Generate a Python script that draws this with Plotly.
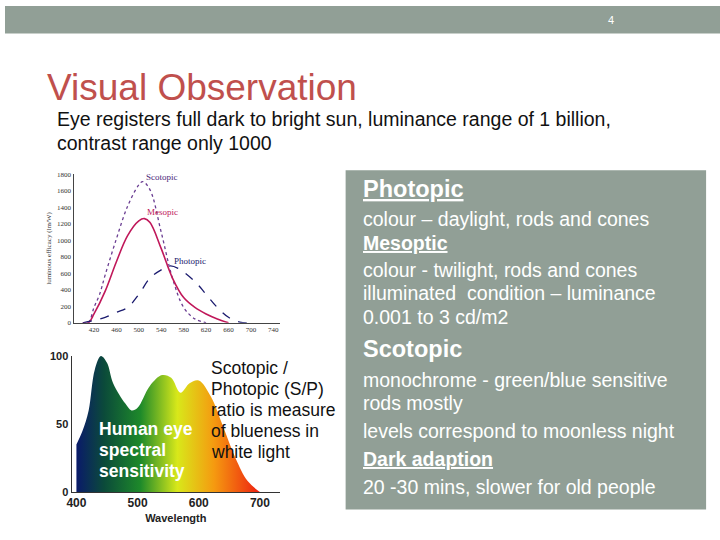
import plotly.graph_objects as go

W, H = 720, 540
def px(x): return x / W
def py(y): return 1 - y / H

# Top chart: luminous efficacy curves
scot_x = [400, 410, 420, 430, 440, 460, 480, 500, 507, 520, 540, 560, 580, 600, 620]
scot_y = [0, 0, 186, 344, 580, 1017, 1412, 1670, 1710, 1610, 1096, 542, 186, 47, 0]
meso_x = [400, 410, 420, 440, 460, 480, 500, 510, 520, 540, 560, 580, 600, 620, 640, 660]
meso_y = [0, 0, 107, 384, 740, 1056, 1234, 1262, 1214, 898, 542, 305, 186, 107, 47, 0]
phot_x = [400, 420, 440, 460, 480, 500, 520, 540, 556, 570, 600, 620, 640, 660, 680, 700]
phot_y = [0, 28, 67, 127, 186, 344, 542, 641, 690, 660, 500, 344, 186, 67, 8, 0]
top_xticks = [380, 420, 460, 500, 540, 580, 620, 660, 700, 740]
top_yticks = [0, 200, 400, 600, 800, 1000, 1200, 1400, 1600, 1800]

# Bottom chart: human eye spectral sensitivity
sens_x = [400, 410, 420, 430, 440, 450, 460, 480, 490, 500, 520, 540, 555, 570, 585, 600, 620, 640, 660, 680, 700]
sens_y = [35, 45, 60, 90, 100, 95, 80, 65, 60, 62, 78, 86, 84, 73, 80, 82, 70, 48, 25, 8, 0]
bot_xticks = [400, 500, 600, 700]
bot_yticks = [0, 50, 100]

GRAY = "#919f96"
fig = go.Figure()
fig.add_trace(go.Scatter(x=scot_x, y=scot_y, mode="lines", line=dict(color="#6a3d92", width=1.3, dash="dot", shape="spline"), xaxis="x", yaxis="y"))
fig.add_trace(go.Scatter(x=meso_x, y=meso_y, mode="lines", line=dict(color="#c0185a", width=1.6, shape="spline"), xaxis="x", yaxis="y"))
fig.add_trace(go.Scatter(x=phot_x, y=phot_y, mode="lines", line=dict(color="#1a1a6e", width=1.3, dash="dash", shape="spline"), xaxis="x", yaxis="y"))
fig.add_trace(go.Scatter(x=sens_x, y=sens_y, mode="lines", line=dict(color="rgba(0,0,0,0)", width=0, shape="spline"),
                         fill="tozeroy",
                         fillgradient=dict(type="horizontal", colorscale=[[0, "#0a1a6a"], [0.15, "#0b4a3a"], [0.35, "#1e8a2a"], [0.55, "#d8e81a"], [0.75, "#f59a10"], [1, "#ee2010"]]),
                         xaxis="x2", yaxis="y2"))

serif = "Liberation Serif"
fig.update_layout(
    width=W, height=H, margin=dict(l=0, r=0, t=0, b=0),
    paper_bgcolor="white", plot_bgcolor="white", showlegend=False,
    xaxis=dict(domain=[px(69), px(277)], anchor="y", range=[383.5, 752], tickvals=top_xticks,
               showgrid=False, zeroline=False, showline=True, linecolor="#444", linewidth=1,
               ticks="", tickfont=dict(family=serif, size=7, color="#333")),
    yaxis=dict(domain=[py(324), py(172)], anchor="x", range=[0, 1800], tickvals=top_yticks,
               showgrid=False, zeroline=False, showline=True, linecolor="#444", linewidth=1,
               ticks="", tickfont=dict(family=serif, size=7, color="#333"),
               title=dict(text="luminous efficacy (lm/W)", font=dict(family=serif, size=7, color="#333"), standoff=4)),
    xaxis2=dict(domain=[px(67), px(277)], anchor="y2", range=[392, 733], tickvals=bot_xticks,
                showgrid=False, zeroline=False, showline=True, linecolor="#333", linewidth=1,
                ticks="", tickfont=dict(family="Liberation Sans", size=12, color="#222", weight="bold"),
                title=dict(text="Wavelength", font=dict(family="Liberation Sans", size=11, color="#222", weight="bold"), standoff=4)),
    yaxis2=dict(domain=[py(497), py(358)], anchor="x2", range=[0, 100], tickvals=bot_yticks,
                showgrid=False, zeroline=False, showline=True, linecolor="#333", linewidth=1,
                ticks="", tickfont=dict(family="Liberation Sans", size=11, color="#222", weight="bold")),
)

shapes = [
    dict(type="rect", xref="paper", yref="paper", x0=0, x1=1, y0=py(28), y1=1, fillcolor=GRAY, line=dict(width=0), layer="below"),
    dict(type="rect", xref="paper", yref="paper", x0=px(343), x1=px(706), y0=py(515), y1=py(168), fillcolor=GRAY, line=dict(width=0), layer="below"),
]
fig.update_layout(shapes=shapes)

def ann(text, x, y, size, color, anchor="left", family="Liberation Sans", **kw):
    fig.add_annotation(text=text, x=px(x), y=py(y), xref="paper", yref="paper", xanchor=anchor, yanchor="middle",
                       showarrow=False, font=dict(family=family, size=size, color=color), align="left", **kw)

ann("4", 610, 14, 11, "white", anchor="center")
ann("Visual Observation", 40, 83, 37, "#c0504d")
ann("Eye registers full dark to bright sun, luminance range of 1 billion,", 50, 116, 19.5, "#111")
ann("contrast range only 1000", 50, 140, 19.5, "#111")

ann("Scotopic", 140, 175, 9, "#4b2a7a", family=serif)
ann("Mesopic", 141, 211, 9, "#c0185a", family=serif)
ann("Photopic", 168, 261, 9, "#1a1a6e", family=serif)

for i, t in enumerate(["Human eye", "spectral", "sensitivity"]):
    ann("<b>%s</b>" % t, 93, 433 + i * 21.5, 17.5, "white")
for i, t in enumerate(["Scotopic /", "Photopic (S/P)", "ratio is measure", "of blueness in", "white light"]):
    ann(t, 205, 370 + i * 21.5, 17.5, "#111")

rows = [
    ("<b><u>Photopic</u></b>", 187, 23.5), ("colour – daylight, rods and cones", 218, 19.5),
    ("<b><u>Mesoptic</u></b>", 242, 19.5), ("colour - twilight, rods and cones", 270, 19.5),
    ("illuminated  condition – luminance", 294, 19.5), ("0.001 to 3 cd/m2", 318, 19.5),
    ("<b>Scotopic</b>", 351, 23.5), ("monochrome - green/blue sensitive", 382, 19.5),
    ("rods mostly", 406, 19.5), ("levels correspond to moonless night", 435, 19.5),
    ("<b><u>Dark adaption</u></b>", 463, 19.5), ("20 -30 mins, slower for old people", 492, 19.5),
]
for t, y, s in rows:
    ann(t, 358, y, s, "white")

fig.write_html("out.html", config={"displayModeBar": False},
               post_script="document.body.style.margin='0';document.body.style.overflow='hidden';")
